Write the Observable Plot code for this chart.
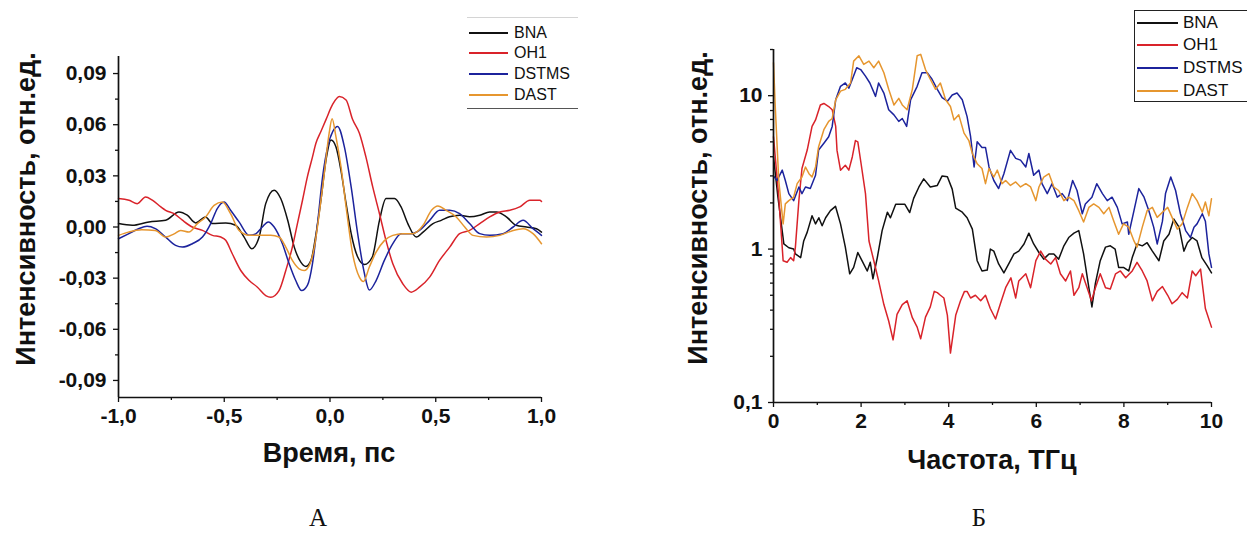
<!DOCTYPE html>
<html>
<head>
<meta charset="utf-8">
<script src="https://cdn.jsdelivr.net/npm/d3@7"></script>
<script src="https://cdn.jsdelivr.net/npm/@observablehq/plot@0.6"></script>
<style>
  body { margin: 0; background: #fff; }
  #root { position: relative; width: 1247px; height: 533px; overflow: hidden; background: #fff;
          font-family: "Liberation Sans", Arial, sans-serif; color: #111; }
  .abs { position: absolute; }
  .title { font-weight: bold; font-size: 27px; white-space: nowrap; transform: translate(-50%, -50%); }
  .ytitle { transform: translate(-50%, -50%) rotate(-90deg); }
  .caption { font-family: "Liberation Serif", "Times New Roman", serif; font-size: 25px; transform: translate(-50%, -50%); }
  .leg-text { position: absolute; white-space: nowrap; transform: translateY(-50%); }
  .leg-line { position: absolute; height: 2px; transform: translateY(-50%); }
</style>
</head>
<body>
<div id="root"></div>
<script>
// ---------- data ----------
const seriesNames = ["BNA", "OH1", "DSTMS", "DAST"];
const seriesColors = ["#111111", "#d9232a", "#1c239c", "#e6962f"];

// Panel A: time (ps), intensity (a.u.)
const timeBNA = [[-1,0.002],[-0.935,0.001],[-0.856,0.003],[-0.777,0.004],[-0.714,0.0088],[-0.675,0.0069],[-0.635,0.0024],[-0.588,0.0059],[-0.556,0.002],[-0.493,0.0024],[-0.446,0.001],[-0.406,-0.0059],[-0.37,-0.0127],[-0.335,-0.0059],[-0.304,0.0137],[-0.264,0.0216],[-0.233,0.0167],[-0.2,0.004],[-0.169,-0.0118],[-0.138,-0.0206],[-0.114,-0.0231],[-0.09,-0.0196],[-0.066,-0.004],[-0.043,0.0157],[-0.019,0.0392],[0.005,0.051],[0.028,0.047],[0.052,0.033],[0.076,0.0138],[0.1,-0.0038],[0.131,-0.0176],[0.163,-0.022],[0.2,-0.0176],[0.234,0.0039],[0.265,0.0167],[0.305,0.0167],[0.336,0.0118],[0.368,0.002],[0.408,-0.0059],[0.44,-0.003],[0.487,0.002],[0.526,0.0039],[0.565,0.006],[0.613,0.0069],[0.66,0.006],[0.708,0.0069],[0.755,0.0088],[0.787,0.0088],[0.834,0.006],[0.88,0.001],[0.929,0.0],[0.976,-0.001],[1.0,-0.003]];
const timeOH1 = [[-1,0.0167],[-0.95,0.0157],[-0.911,0.0137],[-0.872,0.0176],[-0.84,0.0157],[-0.8,0.0118],[-0.777,0.0098],[-0.737,0.0078],[-0.698,0.004],[-0.651,0.0],[-0.603,-0.002],[-0.556,-0.0049],[-0.516,-0.0059],[-0.493,-0.0078],[-0.462,-0.0157],[-0.422,-0.0255],[-0.382,-0.0314],[-0.343,-0.0353],[-0.304,-0.0402],[-0.28,-0.0412],[-0.241,-0.0373],[-0.209,-0.0255],[-0.178,-0.0118],[-0.154,0.002],[-0.13,0.0157],[-0.107,0.0294],[-0.083,0.041],[-0.067,0.049],[-0.043,0.056],[-0.019,0.063],[0.013,0.072],[0.044,0.0765],[0.076,0.0745],[0.107,0.063],[0.139,0.055],[0.17,0.041],[0.202,0.0235],[0.234,0.0078],[0.265,-0.008],[0.297,-0.0216],[0.344,-0.0333],[0.384,-0.0382],[0.423,-0.0353],[0.471,-0.0294],[0.518,-0.0196],[0.566,-0.0118],[0.613,-0.0039],[0.66,-0.002],[0.708,0.002],[0.755,0.0059],[0.803,0.0088],[0.85,0.0098],[0.897,0.0118],[0.945,0.0157],[0.992,0.0157],[1.0,0.015]];
const timeDSTMS = [[-1,-0.0069],[-0.953,-0.004],[-0.905,-0.001],[-0.865,0.0004],[-0.826,-0.001],[-0.777,-0.0059],[-0.73,-0.0108],[-0.698,-0.0118],[-0.651,-0.0098],[-0.603,-0.0059],[-0.564,0.002],[-0.533,0.0108],[-0.501,0.0147],[-0.47,0.0098],[-0.43,0.003],[-0.382,-0.0049],[-0.351,-0.004],[-0.32,0.0],[-0.292,0.003],[-0.264,0.0],[-0.225,-0.0098],[-0.193,-0.0216],[-0.162,-0.0314],[-0.134,-0.0373],[-0.107,-0.0343],[-0.083,-0.0216],[-0.059,0.002],[-0.035,0.0294],[-0.011,0.047],[0.013,0.056],[0.036,0.059],[0.068,0.047],[0.1,0.0235],[0.131,-0.004],[0.163,-0.0274],[0.186,-0.037],[0.218,-0.0314],[0.257,-0.0196],[0.297,-0.0098],[0.336,-0.0039],[0.384,-0.0039],[0.423,-0.002],[0.471,0.0039],[0.518,0.0098],[0.566,0.0098],[0.613,0.0078],[0.66,0.002],[0.708,-0.0039],[0.755,-0.0049],[0.818,-0.0039],[0.866,0.0],[0.913,0.0039],[0.96,-0.001],[1.0,-0.0049]];
const timeDAST = [[-1,-0.0049],[-0.953,-0.003],[-0.89,-0.0016],[-0.826,-0.002],[-0.777,-0.0059],[-0.737,-0.004],[-0.706,-0.002],[-0.667,-0.003],[-0.627,0.002],[-0.588,0.0059],[-0.548,0.0127],[-0.509,0.0147],[-0.47,0.0078],[-0.43,-0.002],[-0.382,-0.0049],[-0.335,-0.0049],[-0.28,-0.0049],[-0.241,-0.0059],[-0.209,-0.0118],[-0.178,-0.0196],[-0.146,-0.0245],[-0.122,-0.0255],[-0.098,-0.0225],[-0.074,-0.0118],[-0.051,0.0078],[-0.027,0.0314],[-0.004,0.055],[0.01,0.0635],[0.028,0.053],[0.052,0.0353],[0.076,0.0118],[0.107,-0.0157],[0.139,-0.0294],[0.158,-0.032],[0.186,-0.0235],[0.218,-0.0147],[0.257,-0.008],[0.297,-0.0049],[0.344,-0.0039],[0.392,-0.0039],[0.44,0.001],[0.48,0.0098],[0.51,0.0123],[0.55,0.0098],[0.597,0.0059],[0.637,0.0],[0.676,-0.0049],[0.74,-0.0059],[0.803,-0.0049],[0.866,-0.002],[0.913,-0.001],[0.96,-0.0039],[1.0,-0.0098]];

// Panel Б: frequency (THz), intensity (a.u., log)
const freqBNA = [[0,4.0],[0.1,2.2],[0.236,1.08],[0.35,1.02],[0.46,1.0],[0.5,0.93],[0.62,0.88],[0.69,1.13],[0.77,1.29],[0.88,1.65],[0.96,1.46],[1.035,1.6],[1.11,1.42],[1.19,1.6],[1.3,1.78],[1.415,1.9],[1.53,1.46],[1.64,1.03],[1.74,0.69],[1.83,0.76],[1.925,0.95],[2.02,0.84],[2.14,0.72],[2.21,0.82],[2.27,0.64],[2.37,0.88],[2.48,1.32],[2.6,1.74],[2.67,1.6],[2.79,1.96],[2.9,1.96],[3.0,1.96],[3.11,1.73],[3.2,2.14],[3.32,2.54],[3.43,2.87],[3.58,2.54],[3.74,2.6],[3.85,3.0],[3.97,2.96],[4.08,2.46],[4.16,1.85],[4.31,1.74],[4.42,1.6],[4.54,1.35],[4.65,0.84],[4.76,0.72],[4.88,0.73],[4.95,1.0],[5.03,0.97],[5.14,0.8],[5.26,0.7],[5.37,0.8],[5.49,0.93],[5.6,0.97],[5.72,1.08],[5.83,1.27],[5.94,1.08],[6.06,0.95],[6.17,0.86],[6.29,0.93],[6.4,0.93],[6.51,0.86],[6.63,1.05],[6.74,1.19],[6.86,1.27],[6.97,1.32],[7.08,0.93],[7.2,0.56],[7.27,0.42],[7.35,0.6],[7.46,0.84],[7.58,1.03],[7.69,1.05],[7.8,1.0],[7.88,0.76],[7.99,0.76],[8.11,0.72],[8.19,0.88],[8.3,1.08],[8.42,1.05],[8.53,1.1],[8.65,0.97],[8.8,0.84],[8.91,1.13],[9.03,1.25],[9.14,1.57],[9.26,1.39],[9.37,0.97],[9.45,1.1],[9.56,1.19],[9.67,1.13],[9.78,0.88],[9.9,0.78],[10,0.7]];
const freqOH1 = [[0,5.4],[0.12,2.18],[0.22,0.84],[0.31,0.82],[0.39,0.88],[0.46,0.84],[0.5,1.03],[0.58,2.08],[0.65,3.35],[0.77,4.42],[0.88,6.3],[0.96,6.95],[1.07,8.7],[1.15,8.9],[1.26,8.5],[1.34,8.1],[1.42,6.3],[1.45,4.4],[1.53,3.27],[1.64,3.52],[1.72,3.27],[1.8,4.0],[1.87,5.1],[1.925,5.0],[2.0,3.6],[2.1,2.3],[2.18,1.13],[2.29,0.84],[2.4,0.62],[2.52,0.435],[2.63,0.34],[2.73,0.256],[2.82,0.375],[2.94,0.435],[3.05,0.46],[3.17,0.357],[3.28,0.31],[3.36,0.26],[3.47,0.36],[3.58,0.42],[3.67,0.53],[3.74,0.52],[3.81,0.5],[3.89,0.48],[3.97,0.37],[4.04,0.21],[4.16,0.37],[4.27,0.46],[4.36,0.53],[4.42,0.53],[4.5,0.48],[4.61,0.5],[4.73,0.46],[4.84,0.5],[4.95,0.41],[5.07,0.35],[5.18,0.44],[5.3,0.56],[5.42,0.65],[5.53,0.48],[5.6,0.62],[5.76,0.69],[5.87,0.56],[5.99,0.84],[6.1,0.97],[6.21,0.86],[6.33,0.8],[6.44,0.88],[6.55,0.69],[6.67,0.62],[6.78,0.72],[6.86,0.5],[6.97,0.56],[7.05,0.69],[7.16,0.56],[7.26,0.46],[7.35,0.56],[7.46,0.69],[7.58,0.56],[7.69,0.55],[7.81,0.69],[7.92,0.72],[8.04,0.65],[8.19,0.72],[8.3,0.82],[8.42,0.72],[8.53,0.62],[8.65,0.46],[8.76,0.53],[8.88,0.57],[9.0,0.5],[9.1,0.44],[9.22,0.47],[9.33,0.52],[9.45,0.48],[9.56,0.72],[9.64,0.67],[9.75,0.74],[9.86,0.41],[10,0.31]];
const freqDSTMS = [[0,3.0],[0.08,2.8],[0.2,3.27],[0.27,2.8],[0.35,2.3],[0.46,2.07],[0.58,2.54],[0.65,2.3],[0.73,2.54],[0.84,2.48],[0.96,3.03],[1.03,4.42],[1.15,4.9],[1.26,5.4],[1.34,6.3],[1.42,9.4],[1.53,11.5],[1.64,12.1],[1.72,11.2],[1.8,12.8],[1.9,15.2],[1.99,14.8],[2.1,13.4],[2.2,12.1],[2.33,9.9],[2.4,12.1],[2.52,10.4],[2.63,8.1],[2.75,7.5],[2.86,6.8],[2.94,7.1],[3.04,6.3],[3.13,9.4],[3.28,11.5],[3.39,14.1],[3.51,14.1],[3.62,12.8],[3.74,11.0],[3.85,9.7],[3.97,9.2],[4.08,10.1],[4.19,10.4],[4.31,9.4],[4.42,7.3],[4.5,5.4],[4.58,3.43],[4.65,5.0],[4.76,4.6],[4.84,4.6],[4.92,3.43],[5.03,2.8],[5.14,2.48],[5.26,3.1],[5.41,4.4],[5.53,3.9],[5.64,3.8],[5.76,3.43],[5.83,4.2],[5.94,3.03],[6.06,3.27],[6.13,2.67],[6.25,2.3],[6.36,2.67],[6.48,2.18],[6.59,2.3],[6.71,2.07],[6.83,2.8],[6.93,2.41],[7.05,1.7],[7.12,1.97],[7.27,2.18],[7.38,2.67],[7.51,2.3],[7.62,2.07],[7.73,2.18],[7.85,1.87],[7.96,1.46],[8.08,1.5],[8.11,1.25],[8.23,1.78],[8.34,2.48],[8.46,2.18],[8.57,1.78],[8.68,1.39],[8.76,1.08],[8.88,1.52],[8.95,2.3],[9.07,2.95],[9.18,2.41],[9.29,1.7],[9.41,1.32],[9.52,1.19],[9.6,1.39],[9.67,1.46],[9.79,1.7],[9.86,1.52],[9.94,0.93],[10,0.76]];
const freqDAST = [[0,16.4],[0.04,8.5],[0.12,2.8],[0.22,1.46],[0.27,1.97],[0.35,2.07],[0.46,2.18],[0.54,2.67],[0.65,2.95],[0.73,3.43],[0.81,3.1],[0.88,2.95],[0.96,3.43],[1.03,4.65],[1.15,6.0],[1.26,6.8],[1.34,7.1],[1.42,9.4],[1.53,10.7],[1.64,11.0],[1.76,12.1],[1.83,16.8],[1.95,18.2],[2.06,16.0],[2.18,16.8],[2.29,15.2],[2.4,16.8],[2.52,14.1],[2.63,11.0],[2.75,8.7],[2.86,9.6],[2.94,8.7],[3.05,8.1],[3.17,11.0],[3.28,18.2],[3.36,18.6],[3.47,14.8],[3.58,12.8],[3.7,11.0],[3.81,12.1],[3.93,9.4],[4.04,8.5],[4.12,6.95],[4.23,7.5],[4.35,5.7],[4.46,5.1],[4.54,4.2],[4.65,3.6],[4.76,3.35],[4.84,2.67],[4.92,3.35],[5.03,2.95],[5.11,3.27],[5.22,2.67],[5.3,2.8],[5.41,2.6],[5.53,2.74],[5.64,2.54],[5.76,2.67],[5.87,2.54],[5.99,2.07],[6.06,2.54],[6.17,2.95],[6.29,3.1],[6.4,2.54],[6.51,2.41],[6.63,2.07],[6.74,2.18],[6.86,2.07],[6.97,1.78],[7.08,1.5],[7.2,1.87],[7.31,1.97],[7.43,1.87],[7.54,1.7],[7.66,1.87],[7.77,1.52],[7.88,1.25],[7.99,1.46],[8.11,1.39],[8.23,1.13],[8.3,1.03],[8.42,1.39],[8.53,1.78],[8.65,1.87],[8.76,1.61],[8.88,1.74],[9.0,1.87],[9.1,1.61],[9.22,1.35],[9.33,1.46],[9.45,1.87],[9.56,2.3],[9.67,2.07],[9.79,1.74],[9.86,2.03],[9.94,1.65],[10,2.13]];

// ticks and labels
const timeTicks = [-1, -0.5, 0, 0.5, 1];
const timeMinorTicks = [-0.75, -0.25, 0.25, 0.75];
const ampTicks = [-0.09, -0.06, -0.03, 0, 0.03, 0.06, 0.09];
const ampMinorTicks = [-0.075, -0.045, -0.015, 0.015, 0.045, 0.075];
const freqTicks = [0, 2, 4, 6, 8, 10];
const freqMinorTicks = [1, 3, 5, 7, 9];
const logTicks = [0.1, 1, 10];
const logMinorTicks = [0.2, 0.3, 0.4, 0.5, 0.6, 0.7, 0.8, 0.9, 2, 3, 4, 5, 6, 7, 8, 9, 20];
const titleTimeX = "Время, пс";
const titleFreqX = "Частота, ТГц";
const titleY = "Интенсивность, отн.ед.";
const captions = ["А", "Б"];

// ---------- drawing ----------
const comma = s => s.replace(".", ",");
const FONT = "'Liberation Sans', Arial, sans-serif";
const axisStyle = {fontFamily: FONT, fontSize: "21px", fontWeight: "bold", color: "#111", background: "transparent", overflow: "visible"};
const tickText = {fontSize: 21, fontWeight: "bold", fontFamily: FONT};
const root = document.getElementById("root");

function linesFor(sets, curve) {
  return sets.map((data, i) => Plot.line(data, {x: d => d[0], y: d => d[1], stroke: seriesColors[i], strokeWidth: 1.5, curve}));
}

const left = Plot.plot({
  width: 620, height: 533,
  marginLeft: 118, marginRight: 79, marginTop: 56, marginBottom: 136,
  x: {domain: [-1, 1]},
  y: {domain: [-0.1, 0.1]},
  style: axisStyle,
  marks: [
    Plot.axisX(timeTicks, {...tickText, tickSize: 5, tickPadding: 6, strokeWidth: 1.3, tickFormat: d => comma(d.toFixed(1)), label: null}),
    Plot.axisX(timeMinorTicks, {tickSize: 3, strokeWidth: 1.3, tickFormat: () => "", label: null}),
    Plot.axisY(ampTicks, {...tickText, tickSize: 5, tickPadding: 7, strokeWidth: 1.3, tickFormat: d => comma(d.toFixed(2)), label: null}),
    Plot.axisY(ampMinorTicks, {tickSize: 3, strokeWidth: 1.3, tickFormat: () => "", label: null}),
    ...linesFor([timeBNA, timeOH1, timeDSTMS, timeDAST], "monotone-x"),
    Plot.ruleX([-1], {stroke: "#111", strokeWidth: 1.7}),
    Plot.ruleY([-0.1], {stroke: "#111", strokeWidth: 1.7})
  ]
});
left.style.position = "absolute"; left.style.left = "0px"; left.style.top = "0px";
root.appendChild(left);

const right = Plot.plot({
  width: 627, height: 533,
  marginLeft: 153, marginRight: 36, marginTop: 49, marginBottom: 131,
  x: {domain: [0, 10]},
  y: {type: "log", domain: [0.1, 20]},
  style: axisStyle,
  marks: [
    Plot.axisX(freqTicks, {...tickText, tickSize: 5, tickPadding: 6, strokeWidth: 1.3, tickFormat: d => String(d), label: null}),
    Plot.axisX(freqMinorTicks, {tickSize: 3, strokeWidth: 1.3, tickFormat: () => "", label: null}),
    Plot.axisY(logTicks, {...tickText, tickSize: 5, tickPadding: 6, strokeWidth: 1.3, tickFormat: d => comma(String(d)), label: null}),
    Plot.axisY(logMinorTicks, {tickSize: 3, strokeWidth: 1.3, tickFormat: () => "", label: null}),
    ...linesFor([freqBNA, freqOH1, freqDSTMS, freqDAST], "linear"),
    Plot.ruleX([0], {stroke: "#111", strokeWidth: 1.7}),
    Plot.ruleY([0.1], {stroke: "#111", strokeWidth: 1.7})
  ]
});
right.style.position = "absolute"; right.style.left = "620px"; right.style.top = "0px";
root.appendChild(right);

function addDiv(cls, text, x, y, extra) {
  const el = document.createElement("div");
  el.className = "abs " + cls;
  el.textContent = text;
  el.style.left = x + "px"; el.style.top = y + "px";
  if (extra) Object.assign(el.style, extra);
  root.appendChild(el);
  return el;
}

// axis titles
addDiv("title", titleTimeX, 329, 453);
addDiv("title ytitle", titleY, 26, 209);
addDiv("title", titleFreqX, 992, 460);
addDiv("title ytitle", titleY, 698, 208);
// panel captions
addDiv("caption", captions[0], 318, 518);
addDiv("caption", captions[1], 979, 518);

// legends
function legend(box, rows, lineX0, lineX1, textX, fontSize) {
  const b = document.createElement("div");
  b.className = "abs";
  Object.assign(b.style, box);
  root.appendChild(b);
  seriesNames.forEach((name, i) => {
    const y = rows[i];
    const ln = document.createElement("div");
    ln.className = "leg-line";
    Object.assign(ln.style, {left: lineX0 + "px", width: (lineX1 - lineX0) + "px", top: y + "px", background: seriesColors[i]});
    root.appendChild(ln);
    const tx = document.createElement("div");
    tx.className = "leg-text";
    tx.textContent = name;
    Object.assign(tx.style, {left: textX + "px", top: y + "px", fontSize: fontSize + "px"});
    root.appendChild(tx);
  });
}
legend({left: "467px", top: "17px", width: "111px", height: "90px", borderTop: "1.5px solid #d4d4d4", borderBottom: "1.5px solid #555"},
       [32.5, 52.5, 73.5, 95], 469, 508, 514, 16);
legend({left: "1134px", top: "10px", width: "140px", height: "92px", border: "1.2px solid #222", boxSizing: "border-box"},
       [22.5, 45, 68, 90.5], 1137, 1178, 1183, 17);
</script>
</body>
</html>
